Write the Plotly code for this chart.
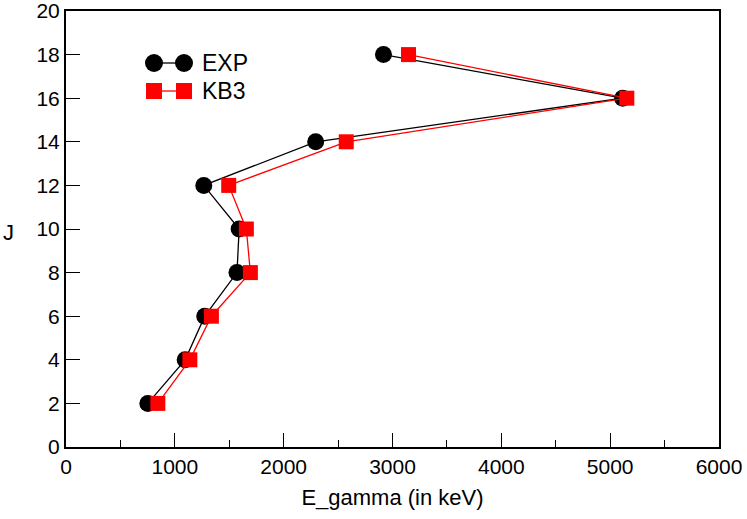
import plotly.graph_objects as go

J = [2, 4, 6, 8, 10, 12, 14, 16, 18]
exp_e = [752, 1095, 1275, 1571, 1591, 1266, 2294, 5115, 2917]
kb3_e = [844, 1138, 1336, 1694, 1657, 1495, 2575, 5153, 3147]

series_names = ["EXP", "KB3"]
colors = ["black", "red"]

FONT = "Liberation Sans, Arial, Helvetica, sans-serif"

fig = go.Figure()
fig.add_trace(go.Scatter(x=exp_e, y=J, mode="lines+markers", name=series_names[0],
                         line=dict(color=colors[0], width=1.3),
                         marker=dict(symbol="circle", size=17, color=colors[0]),
                         showlegend=False))
fig.add_trace(go.Scatter(x=kb3_e, y=J, mode="lines+markers", name=series_names[1],
                         line=dict(color=colors[1], width=1.3),
                         marker=dict(symbol="square", size=15, color=colors[1]),
                         showlegend=False))

W, H = 747, 519
L, R, T, B = 66, 28, 11, 72
pw, ph = W - L - R, H - T - B

def px(x):
    return (x - L) / pw

def py(y):
    return 1 - (y - T) / ph

shapes = []
annotations = []
# manual legend
rows = [(63, "circle", colors[0], series_names[0]), (91, "square", colors[1], series_names[1])]
for yy, sym, col, name in rows:
    shapes.append(dict(type="line", xref="paper", yref="paper",
                       x0=px(154), x1=px(184), y0=py(yy), y1=py(yy),
                       line=dict(color=col, width=1.3)))
    for cx in (154, 184):
        r = 9 if sym == "circle" else 8
        shapes.append(dict(type="circle" if sym == "circle" else "rect",
                           xref="paper", yref="paper",
                           x0=px(cx - r), x1=px(cx + r), y0=py(yy + r), y1=py(yy - r),
                           fillcolor=col, line=dict(width=0)))
    annotations.append(dict(xref="paper", yref="paper", x=px(200), y=py(yy),
                            xanchor="left", yanchor="middle", text=name, showarrow=False,
                            font=dict(family=FONT, size=23, color="black")))

annotations.append(dict(xref="paper", yref="paper", x=px(9), y=py(232),
                        xanchor="center", yanchor="middle", text="J", showarrow=False,
                        font=dict(family=FONT, size=22, color="black")))

fig.update_layout(
    width=W, height=H,
    margin=dict(l=L, r=R, t=T, b=B, pad=0),
    plot_bgcolor="white", paper_bgcolor="white",
    font=dict(family=FONT, size=21, color="black"),
    shapes=shapes, annotations=annotations,
    xaxis=dict(range=[0, 6000], dtick=1000, tick0=0, ticks="inside", ticklen=14,
               tickwidth=1, tickcolor="black", showline=True, linewidth=2,
               linecolor="black", mirror=True, showgrid=False, zeroline=False,
               automargin=False, ticklabeloverflow="allow",
               minor=dict(dtick=500, ticks="inside", ticklen=7, tickcolor="black", tickwidth=1, showgrid=False),
               title=dict(text="E_gamma (in keV)", standoff=12, font=dict(size=22)),
               tickfont=dict(size=21)),
    yaxis=dict(range=[0, 20], dtick=2, tick0=0, ticks="inside", ticklen=14,
               tickwidth=1, tickcolor="black", showline=True, linewidth=2,
               linecolor="black", mirror=True, showgrid=False, zeroline=False,
               automargin=False, ticklabeloverflow="allow",
               tickfont=dict(size=21)),
)

fig.write_html("out.html", config={"displayModeBar": False},
               post_script="document.body.style.margin='0';document.body.style.padding='0';")
